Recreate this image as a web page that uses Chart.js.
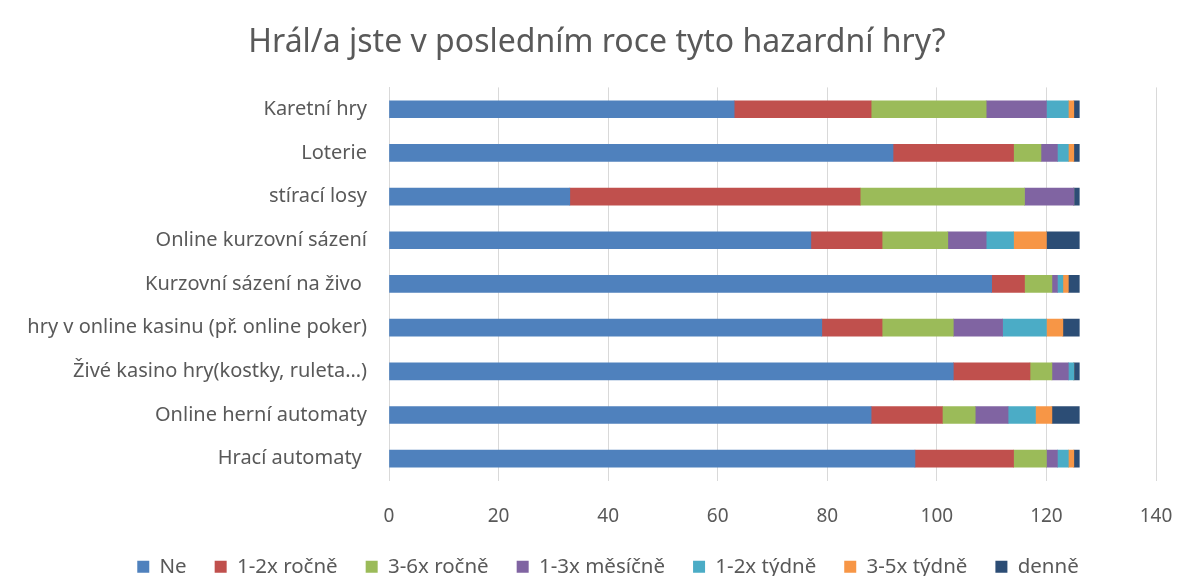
<!DOCTYPE html>
<html>
<head>
<meta charset="utf-8">
<script src="https://cdn.jsdelivr.net/npm/chart.js@4"></script>
<style>
  body { margin: 0; background: #fff; }
  #wrap { width: 1180px; height: 576px; }
</style>
</head>
<body>
<div id="wrap"><canvas id="chart" width="1180" height="576"></canvas></div>
<script>
const categories = ['Karetní hry', 'Loterie', 'stírací losy', 'Online kurzovní sázení', 'Kurzovní sázení na živo ',
    'hry v online kasinu (př. online poker)', 'Živé kasino hry(kostky, ruleta…)', 'Online herní automaty', 'Hrací automaty '];
const seriesNames = ['Ne', '1-2x ročně', '3-6x ročně', '1-3x měsíčně', '1-2x týdně', '3-5x týdně', 'denně'];
const colors = ['#4F81BD', '#C0504D', '#9BBB59', '#8064A2', '#4BACC6', '#F79646', '#2C4D75'];

const ne         = [63, 92, 33, 77, 110, 79, 103, 88, 96];
const rocne12    = [25, 22, 53, 13, 6, 11, 14, 13, 18];
const rocne36    = [21, 5, 30, 12, 5, 13, 4, 6, 6];
const mesicne13  = [11, 3, 9, 7, 1, 9, 3, 6, 2];
const tydne12    = [4, 2, 0, 5, 1, 8, 1, 5, 2];
const tydne35    = [1, 1, 0, 6, 1, 3, 0, 3, 1];
const denne      = [1, 1, 1, 6, 2, 3, 1, 5, 1];
const xTicks = [0, 20, 40, 60, 80, 100, 120, 140];

const values = [ne, rocne12, rocne36, mesicne13, tydne12, tydne35, denne];
const FONT = "'Noto Sans', 'Open Sans', sans-serif";
const GREY = '#595959';

const datasets = seriesNames.map((name, i) => ({
    label: name,
    data: values[i],
    backgroundColor: colors[i],
    borderWidth: 0,
    barThickness: 17
}));

// title and legend sit a little right of the page centre in the original
const nudge = {
    id: 'nudge',
    afterLayout(chart) {
        chart.titleBlock.left += 7;
        chart.titleBlock.right += 7;
        chart.legend.left += 18;
        chart.legend.right += 18;
    }
};

new Chart(document.getElementById('chart'), {
    type: 'bar',
    data: { labels: categories, datasets: datasets },
    plugins: [nudge],
    options: {
        indexAxis: 'y',
        responsive: false,
        animation: false,
        layout: { padding: { top: 0, right: 0, bottom: -11, left: 0 } },
        plugins: {
            title: {
                display: true,
                text: 'Hrál/a jste v posledním roce tyto hazardní hry?',
                color: GREY,
                font: { family: FONT, size: 32, weight: 'normal' },
                padding: { top: 24, bottom: 25 }
            },
            legend: {
                position: 'bottom',
                labels: {
                    color: GREY,
                    font: { family: FONT, size: 20.5 },
                    boxWidth: 12,
                    boxHeight: 12,
                    padding: 28
                }
            },
            tooltip: { enabled: false }
        },
        scales: {
            x: {
                stacked: true,
                min: 0,
                max: 140,
                afterBuildTicks: axis => { axis.ticks = xTicks.map(v => ({ value: v })); },
                afterFit: axis => {
                    axis.height = 48;
                    axis.paddingLeft = 0;
                    axis.paddingRight = 24;
                },
                grid: { color: '#D9D9D9', drawTicks: false },
                border: { display: false },
                ticks: { color: GREY, font: { family: FONT, size: 19 }, padding: 25 }
            },
            y: {
                stacked: true,
                afterFit: axis => { axis.width = 389; },
                grid: { display: false },
                border: { display: true, color: '#D9D9D9' },
                ticks: { color: GREY, font: { family: FONT, size: 20 }, padding: 14 }
            }
        }
    }
});
</script>
</body>
</html>
